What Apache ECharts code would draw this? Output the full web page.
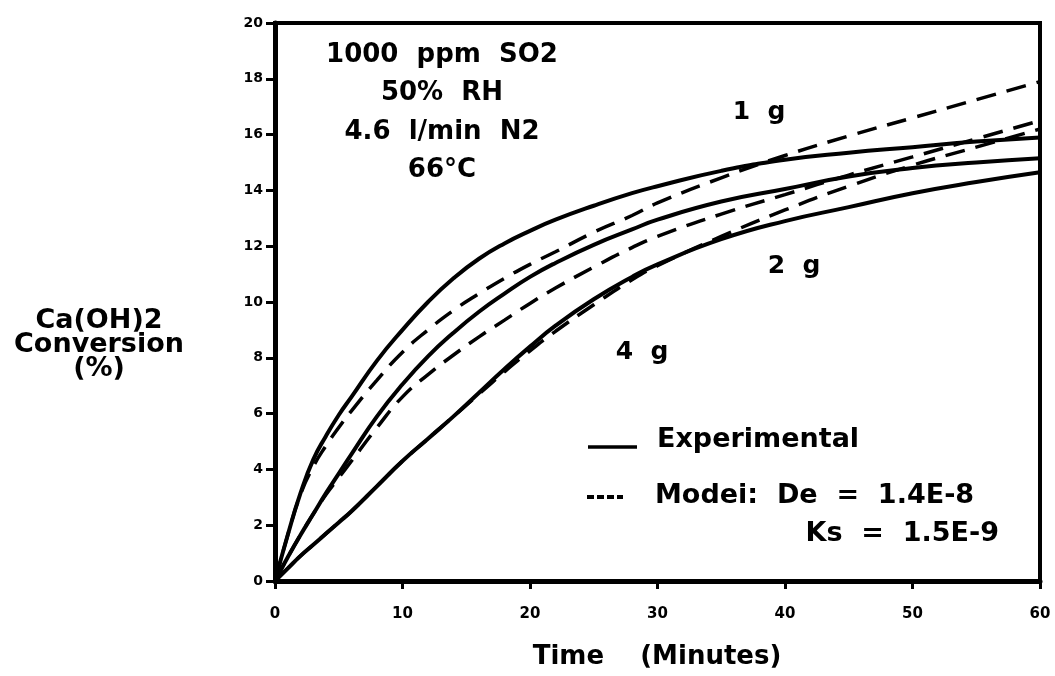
<!DOCTYPE html>
<html>
<head>
<meta charset="utf-8">
<script src="https://cdn.jsdelivr.net/npm/echarts@6/dist/echarts.min.js"></script>
<style>
  html, body { margin: 0; padding: 0; background: #fff; }
  #chart { width: 1055px; height: 676px; }
</style>
</head>
<body>
<div id="chart"></div>
<script>
// Sampling times (minutes)
const timeMin = [0, 1, 2, 3, 4, 5, 6, 8, 10, 12, 14, 16, 18, 20, 22, 25, 28, 30, 35, 40, 45, 50, 55, 60];

// Ca(OH)2 conversion (%) — experimental curves
const exp1g = [0, 1.65, 3.15, 4.35, 5.2, 5.95, 6.6, 7.9, 9.0, 10.0, 10.85, 11.55, 12.1, 12.55, 12.95, 13.45, 13.9, 14.15, 14.7, 15.1, 15.35, 15.55, 15.75, 15.9];
const exp2g = [0, 0.85, 1.65, 2.4, 3.15, 3.85, 4.55, 5.9, 7.05, 8.05, 8.9, 9.65, 10.3, 10.9, 11.4, 12.05, 12.6, 12.95, 13.6, 14.05, 14.5, 14.8, 15.0, 15.15];
const exp4g = [0, 0.45, 0.9, 1.3, 1.7, 2.1, 2.5, 3.4, 4.3, 5.1, 5.9, 6.75, 7.6, 8.4, 9.15, 10.1, 10.9, 11.35, 12.25, 12.9, 13.4, 13.9, 14.3, 14.65];

// Model curves (De = 1.4E-8, Ks = 1.5E-9)
const model1g = [0, 1.65, 3.1, 4.1, 4.85, 5.5, 6.1, 7.2, 8.2, 9.0, 9.7, 10.3, 10.85, 11.35, 11.8, 12.5, 13.1, 13.55, 14.45, 15.25, 15.95, 16.6, 17.25, 17.9];
const model2g = [0, 0.85, 1.65, 2.4, 3.1, 3.7, 4.3, 5.5, 6.6, 7.4, 8.1, 8.75, 9.35, 9.95, 10.5, 11.25, 11.95, 12.35, 13.15, 13.85, 14.55, 15.2, 15.85, 16.5];
const model4g = [0, 0.45, 0.9, 1.3, 1.7, 2.1, 2.5, 3.4, 4.3, 5.1, 5.9, 6.7, 7.5, 8.25, 8.95, 9.9, 10.8, 11.3, 12.35, 13.3, 14.15, 14.9, 15.55, 16.2];

// Axis ticks
const xTicks = { min: 0, max: 60, step: 10 };
const yTicks = { min: 0, max: 20, step: 2 };

// Text
const conditionLines = ['1000  ppm  SO2', '50%  RH', '4.6  l/min  N2', '66°C'];
const massLabels = ['1  g', '2  g', '4  g'];
const legendExperimental = 'Experimental';
const legendModel = 'Modei:  De  =  1.4E-8';
const legendModel2 = 'Ks  =  1.5E-9';
const yTitleLines = ['Ca(OH)2', 'Conversion', '(%)'];
const xTitle = 'Time    (Minutes)';

const FONT = '"DejaVu Sans", "Liberation Sans", Arial, sans-serif';
const pairs = (ys) => timeMin.map((t, i) => [t, ys[i]]);

function curve(name, ys, dashed) {
  return {
    name: name,
    type: 'line',
    data: pairs(ys),
    smooth: 0.5,
    showSymbol: false,
    silent: true,
    lineStyle: dashed
      ? { color: '#000', width: 3.5, type: [20, 11] }
      : { color: '#000', width: 4 },
    z: dashed ? 3 : 4
  };
}

function txt(text, x, y, size, align) {
  return {
    type: 'text',
    style: {
      text: text,
      x: x,
      y: y,
      fill: '#000',
      font: 'bold ' + size + 'px ' + FONT,
      textAlign: align || 'center',
      textVerticalAlign: 'middle'
    },
    silent: true
  };
}

const chart = echarts.init(document.getElementById('chart'), null, { renderer: 'canvas' });

const graphics = [];
conditionLines.forEach((s, i) => graphics.push(txt(s, 442, 55 + i * 38.5, 26)));
graphics.push(txt(massLabels[0], 759, 112, 25));
graphics.push(txt(massLabels[1], 794, 266, 25));
graphics.push(txt(massLabels[2], 642, 352, 25));
// legend
graphics.push({ type: 'line', shape: { x1: 588, y1: 447, x2: 637, y2: 447 }, style: { stroke: '#000', lineWidth: 3.5 }, silent: true });
graphics.push(txt(legendExperimental, 657, 440, 27, 'left'));
graphics.push({ type: 'line', shape: { x1: 587, y1: 497, x2: 623, y2: 497 }, style: { stroke: '#000', lineWidth: 4, lineDash: [7, 3] }, silent: true });
graphics.push(txt(legendModel, 655, 496, 27, 'left'));
graphics.push(txt(legendModel2, 999, 534, 27, 'right'));
// axis titles
yTitleLines.forEach((s, i) => graphics.push(txt(s, 99, 321 + i * 24, 27)));
graphics.push(txt(xTitle, 657, 657, 26));

chart.setOption({
  animation: false,
  backgroundColor: '#fff',
  grid: {
    left: 275, right: 15, top: 23, bottom: 95,
    show: true, borderColor: '#000', borderWidth: 4, backgroundColor: 'transparent'
  },
  xAxis: {
    type: 'value',
    min: xTicks.min, max: xTicks.max, interval: xTicks.step,
    axisLine: { show: true, lineStyle: { color: '#000', width: 5 } },
    axisTick: { show: true, length: 8, lineStyle: { color: '#000', width: 3 } },
    axisLabel: { color: '#000', fontFamily: FONT, fontWeight: 'bold', fontSize: 15, margin: 26 },
    splitLine: { show: false }
  },
  yAxis: {
    type: 'value',
    min: yTicks.min, max: yTicks.max, interval: yTicks.step,
    axisLine: { show: true, lineStyle: { color: '#000', width: 5 } },
    axisTick: { show: true, length: 9, lineStyle: { color: '#000', width: 3 } },
    axisLabel: { color: '#000', fontFamily: FONT, fontWeight: 'bold', fontSize: 14, margin: 12 },
    splitLine: { show: false }
  },
  series: [
    curve('1 g experimental', exp1g, false),
    curve('2 g experimental', exp2g, false),
    curve('4 g experimental', exp4g, false),
    curve('1 g model', model1g, true),
    curve('2 g model', model2g, true),
    curve('4 g model', model4g, true)
  ],
  graphic: graphics
});
</script>
</body>
</html>
